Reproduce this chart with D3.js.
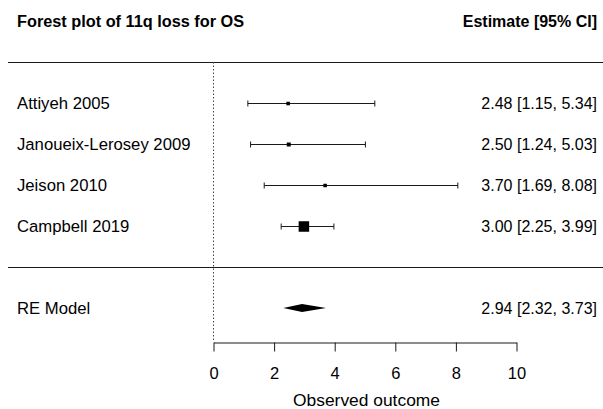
<!DOCTYPE html>
<html>
<head>
<meta charset="utf-8">
<script src="https://cdn.jsdelivr.net/npm/d3@7"></script>
<style>
  html, body { margin: 0; padding: 0; background: #fff; }
  svg { display: block; font-family: "Liberation Sans", Arial, Helvetica, sans-serif; }
</style>
</head>
<body>
<svg id="chart" width="603" height="409"></svg>
<script>
// Study-level hazard ratios for 11q loss (overall survival)
const studies   = ["Attiyeh 2005", "Janoueix-Lerosey 2009", "Jeison 2010", "Campbell 2019"];
const estimates = [2.48, 2.50, 3.70, 3.00];
const lower     = [1.15, 1.24, 1.69, 2.25];
const upper     = [5.34, 5.03, 8.08, 3.99];
const weights   = [9.6, 11.6, 9.3, 69.5];   // % weight in the pooled model

// Pooled random-effects estimate
const pooledLabel = "RE Model";
const pooled = { est: 2.94, lo: 2.32, hi: 3.73 };

const xTicks = [0, 2, 4, 6, 8, 10];
const title = "Forest plot of 11q loss for OS";
const ciHeader = "Estimate [95% CI]";
const xTitle = "Observed outcome";

const svg = d3.select("#chart");
const W = 603;
const fmt = d3.format(".2f");
const ciText = (e, l, u) => `${fmt(e)} [${fmt(l)}, ${fmt(u)}]`;

const x = d3.scaleLinear().domain([0, 10]).range([213, 516]);
// row index: studies k..1, separator 0, pooled -1, header rows above
const k = studies.length;
const y = d3.scaleLinear().domain([0, 1]).range([267, 226]);
const side = d3.scaleLinear()
  .domain(d3.extent(weights, w => Math.sqrt(w)))
  .range([3.5, 10.5]);

const nameSize = 16.7;
const ciSize = 16;
const ink = "#000";
const rule = "#1a1a1a";

// Header row
svg.append("text").attr("x", 17).attr("y", y(k + 2)).attr("dy", "0.35em")
  .attr("font-size", 16.3).attr("font-weight", "bold").text(title);
svg.append("text").attr("x", 597).attr("y", y(k + 2)).attr("dy", "0.35em")
  .attr("text-anchor", "end").attr("font-size", 16).attr("font-weight", "bold").text(ciHeader);

// Horizontal separators
[k + 1, 0].forEach(r => {
  svg.append("line").attr("x1", 8).attr("x2", W).attr("y1", y(r) + 0.5).attr("y2", y(r) + 0.5)
    .attr("stroke", rule).attr("stroke-width", 1);
});

const axisY = 342;

// Reference line at zero
svg.append("line").attr("x1", x(0) + 0.5).attr("x2", x(0) + 0.5)
  .attr("y1", y(k + 1)).attr("y2", axisY)
  .attr("stroke", "#444").attr("stroke-width", 1).attr("stroke-dasharray", "1.5,2");

// Study rows
const rows = studies.map((s, i) => ({
  name: s, est: estimates[i], lo: lower[i], hi: upper[i], w: weights[i], row: k - i
}));

const g = svg.append("g");
rows.forEach(d => {
  const yy = y(d.row) + 0.5;
  g.append("line").attr("x1", x(d.lo)).attr("x2", x(d.hi)).attr("y1", yy).attr("y2", yy)
    .attr("stroke", rule).attr("stroke-width", 1);
  [d.lo, d.hi].forEach(v => {
    g.append("line").attr("x1", x(v)).attr("x2", x(v)).attr("y1", yy - 3).attr("y2", yy + 3)
      .attr("stroke", rule).attr("stroke-width", 1);
  });
  const s = side(Math.sqrt(d.w));
  g.append("rect").attr("x", x(d.est) - s / 2).attr("y", yy - s / 2)
    .attr("width", s).attr("height", s).attr("fill", ink);
  g.append("text").attr("x", 17).attr("y", y(d.row)).attr("dy", "0.35em")
    .attr("font-size", nameSize).text(d.name);
  g.append("text").attr("x", 597).attr("y", y(d.row)).attr("dy", "0.35em")
    .attr("text-anchor", "end").attr("font-size", ciSize).text(ciText(d.est, d.lo, d.hi));
});

// Pooled diamond
const py = y(-1);
svg.append("path")
  .attr("d", d3.line()([[x(pooled.lo), py], [x(pooled.est), py - 4], [x(pooled.hi), py], [x(pooled.est), py + 4]]) + "Z")
  .attr("fill", ink);
svg.append("text").attr("x", 17).attr("y", py).attr("dy", "0.35em")
  .attr("font-size", nameSize).text(pooledLabel);
svg.append("text").attr("x", 597).attr("y", py).attr("dy", "0.35em")
  .attr("text-anchor", "end").attr("font-size", ciSize).text(ciText(pooled.est, pooled.lo, pooled.hi));

// X axis
const axis = svg.append("g").attr("transform", `translate(0.5,${axisY + 0.5})`)
  .call(d3.axisBottom(x).tickValues(xTicks).tickFormat(d3.format("d")).tickSize(9).tickPadding(16).tickSizeOuter(0));
axis.select(".domain").attr("stroke", rule);
axis.selectAll(".tick line").attr("stroke", rule);
axis.selectAll(".tick text").attr("font-size", 16.5).attr("font-family", "Liberation Sans, Arial, sans-serif").attr("fill", ink);

svg.append("text").attr("x", x(5) + 2).attr("y", 400).attr("dy", "0.35em")
  .attr("text-anchor", "middle").attr("font-size", 17.4).text(xTitle);
</script>
</body>
</html>
